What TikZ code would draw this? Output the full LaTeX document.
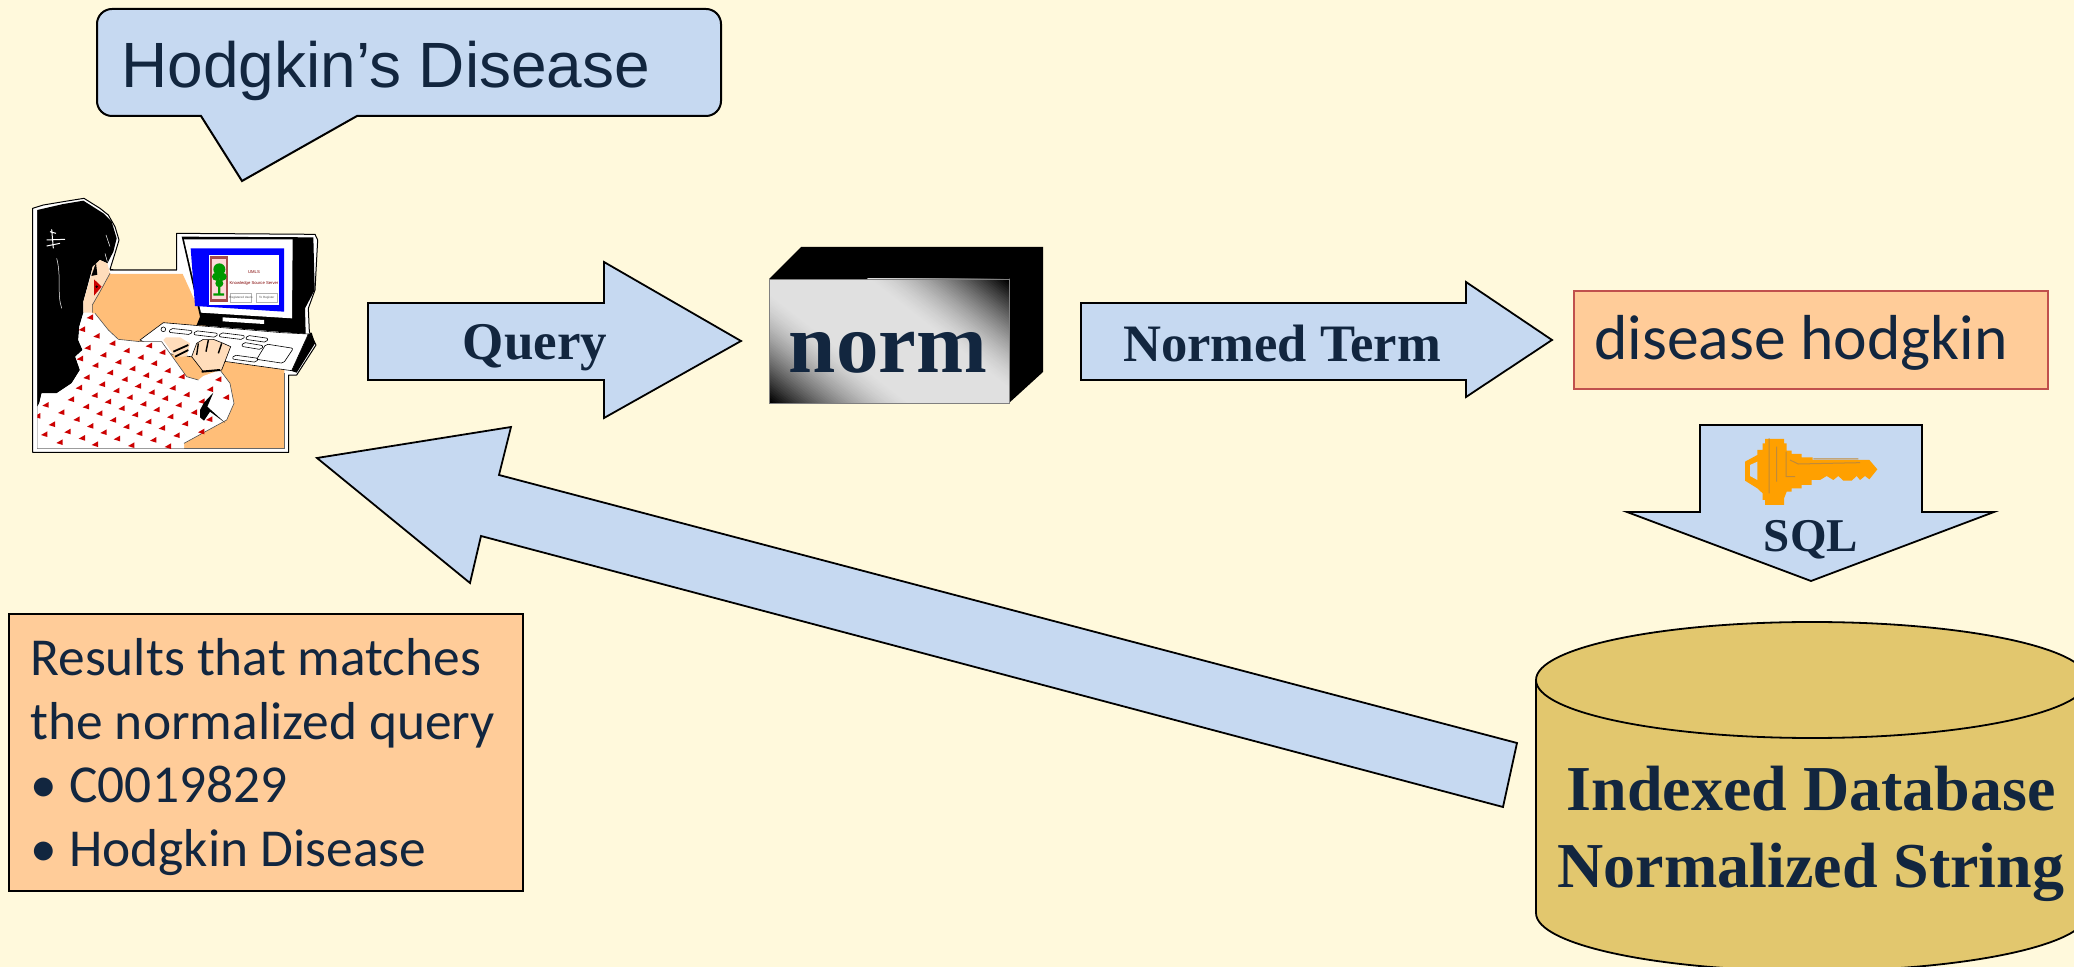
\documentclass[tikz,border=0pt]{standalone}
\usepackage{fontspec}
\setmainfont{Liberation Serif}
\newfontfamily\arialf{Liberation Sans}
\newfontfamily\calib{Carlito}
\usetikzlibrary{calc}
\definecolor{bgc}{HTML}{FFF9DC}
\definecolor{arrowc}{HTML}{C6D9F1}
\definecolor{inkc}{HTML}{12263F}
\definecolor{peachc}{HTML}{FFCC99}
\definecolor{deskc}{HTML}{FFBE78}
\definecolor{skinc}{HTML}{FFDDBB}
\definecolor{dbc}{HTML}{E2C76E}
\definecolor{keyc}{HTML}{FFA000}
\definecolor{keydk}{HTML}{C08A3A}
\definecolor{redbox}{HTML}{C0504D}
\tikzset{
  x=0.5pt,y=-0.5pt,
  blockarrow/.style={draw=black,line width=0.9pt,fill=arrowc,line join=miter},
  boldlabel/.style={font=\bfseries,text=inkc,inner sep=0pt},
  bodyline/.style={anchor=base west,inner sep=0pt,text=inkc,font=\calib\fontsize{26.7}{30}\selectfont},
  pic3/.style={shift={(0,180)},x=0.16667pt,y=-0.16667pt},
  key3/.style={shift={(1600,410)},x=0.16667pt,y=-0.16667pt},
  redtri/.style={fill=red!80!black,draw=none},
}
\begin{document}
\begin{tikzpicture}
\useasboundingbox (0,0) rectangle (2074,967);
\fill[bgc] (0,0) rectangle (2074,967);

% speech callout
\draw[draw=black,line width=1pt,fill=arrowc,line join=miter]
  (112,9) -- (706,9) arc[start angle=-90,end angle=0,radius=15] -- (721,101) arc[start angle=0,end angle=90,radius=15]
  -- (357,116) -- (242,181) -- (201,116) -- (112,116) arc[start angle=90,end angle=180,radius=15]
  -- (97,24) arc[start angle=180,end angle=270,radius=15] -- cycle;
\node[anchor=base west,inner sep=0pt,text=inkc,font=\arialf\fontsize{32}{36}\selectfont] (callout) at (121,88) {Hodgkin’s Disease};

% person at computer
\begin{scope}[pic3]
  \draw[fill=white,draw=black,line width=0.5pt,line join=round]
    (98,85) -- (130,75) -- (190,65) -- (252,55) -- (300,85) -- (325,105) -- (345,140) -- (357,180) -- (345,220) -- (330,268) -- (345,270) -- (530,270) -- (530,160) -- (945,163) -- (953,180) -- (945,330) -- (925,385) -- (928,455) -- (948,495) -- (890,585) -- (866,585) -- (866,817) -- (98,817) -- cycle;
  % desk
  \fill[deskc] (330,282) -- (548,282) -- (620,440) -- (853,500) -- (853,805) -- (500,805) -- (277,400) -- (270,380) -- cycle;
  \draw[black!60,line width=0.5pt] (330,272) -- (530,272) (853,580) -- (853,805) -- (112,805) -- (112,90);
  % hair
  \fill[black] (112,90) -- (190,72) -- (250,62) -- (310,100) -- (335,125) -- (350,175) -- (340,215) -- (322,250) -- (300,240) -- (278,260) -- (250,365) -- (250,398) -- (238,440) -- (235,480) -- (248,510) -- (226,530) -- (240,570) -- (215,610) -- (170,640) -- (125,640) -- (118,670) -- (112,680) -- cycle;
  \draw[white,line width=0.5pt] (155,148) -- (160,205) (140,180) -- (195,178) (140,198) -- (180,190) (150,155) -- (168,160);
  \draw[white,line width=0.25pt] (170,235) .. controls (185,290) and (170,340) .. (185,385);
  \draw[white,line width=0.25pt] (318,165) -- (330,200) (315,220) -- (322,245);
  % face
  \fill[skinc] (322,250) -- (330,280) -- (300,335) -- (277,375) -- (277,398) -- (250,398) -- (250,365) -- (272,290) -- (278,260) -- (300,240) -- cycle;
  \fill[black] (288,248) -- (274,288) -- (292,284) -- cycle;
  \fill[red!80!black] (282,298) -- (305,320) -- (282,347) -- cycle;
  \fill[black] (290,320) circle[radius=4];
  \draw[black!70,line width=0.3pt] (330,280) -- (300,335) -- (277,375) -- (277,398);
  % monitor
  \fill[black] (545,170) -- (940,172) -- (944,330) -- (915,385) -- (917,462) -- (590,435) -- (600,410) -- cycle;
  \fill[white] (552,178) -- (878,178) -- (876,415) -- (603,398) -- cycle;
  \fill[blue] (572,205) -- (852,205) -- (852,395) -- (585,378) -- cycle;
  \fill[white] (628,225) rectangle (836,375);
  \fill[red!50!black!70] (630,228) rectangle (685,367);
  \fill[white!85!red] (637,238) rectangle (678,358);
  \fill[green!60!black] (658,268) circle[x radius=18,y radius=18] (648,290) circle[radius=12] (668,290) circle[radius=12] (658,310) circle[radius=12];
  \fill[green!60!black] (654,310) rectangle (661,340) (640,340) rectangle (672,347);
  \node[font=\arialf\fontsize{2.1}{5.6}\selectfont,text=red!50!black,align=center,inner sep=0pt] (umls) at (762,295) {UMLS\\Knowledge Source Server};
  \draw[gray!60,line width=0.2pt] (692,340) rectangle (755,367) (768,340) rectangle (833,367);
  \node[font=\arialf\fontsize{1.5}{2}\selectfont,text=black!70,inner sep=0pt] (btna) at (723,353) {Registered Users};
  \node[font=\arialf\fontsize{1.5}{2}\selectfont,text=black!70,inner sep=0pt] (btnb) at (800,353) {To Register};
  \fill[white] (668,412) -- (792,420) -- (792,432) -- (668,424) -- cycle;
  % keyboard
  \fill[black] (925,462) -- (935,458) -- (945,490) -- (890,578) -- (872,572) -- cycle;
  \fill[white,draw=black,line width=0.3pt] (420,480) -- (490,428) -- (845,458) -- (925,462) -- (875,572) -- (500,520) -- cycle;
  \foreach \ka/\kb/\kc/\kd in {512/445/578/452, 586/452/654/460, 662/458/735/467, 742/466/805/475, 730/487/790/497, 702/525/775/535}
    {\draw[black,line width=0.3pt,rounded corners=1pt,fill=white] (\ka,\kb) -- (\kc,\kd) -- (\kc-6,\kd+12) -- (\ka-6,\kb+12) -- cycle;}
  \draw[black,line width=0.3pt,rounded corners=1pt] (798,492) -- (880,505) -- (850,550) -- (770,538) -- cycle;
  \draw[black,line width=0.3pt] (490,448) circle[radius=7];
  % hand under the cuff
  \fill[skinc] (490,480) -- (498,472) -- (540,472) -- (570,490) -- (560,530) -- (525,530) -- cycle;
  \draw[black,line width=0.9pt] (520,515) -- (565,495) (525,530) -- (565,510);
  % blouse
  \fill[white] (250,400) -- (285,400) -- (325,450) -- (355,478) -- (420,485) -- (485,485) -- (560,590) -- (595,600) -- (610,588) -- (660,570) -- (690,610) -- (702,670) -- (680,720) -- (552,790) -- (552,805) -- (112,805) -- (112,680) -- (118,670) -- (125,640) -- (170,640) -- (215,610) -- (240,570) -- (226,530) -- (248,510) -- (235,480) -- (238,440) -- cycle;
  \draw[black!70,line width=0.3pt] (285,400) -- (325,450) -- (355,478) -- (420,485) -- (485,485) -- (560,590) -- (595,600) (660,570) -- (690,610) -- (702,670) -- (680,720) -- (552,790);
  \begin{scope}
    \clip (112,380) rectangle (853,805);
    \foreach \px/\py in {270/412,246/448,290/468,337/490,380/512,422/532,462/550,503/572,545/590,
      263/503,310/525,355/546,397/566,438/586,478/604,518/624,560/644,605/664,
      240/536,286/556,330/578,374/598,414/618,455/637,495/655,536/675,582/697,628/718,
      260/592,306/613,349/632,389/652,430/672,470/689,511/710,555/731,604/755,
      237/623,284/646,324/665,365/685,405/704,445/725,486/744,530/766,
      213/658,258/680,298/700,339/720,379/740,418/760,460/780,504/799,
      137/675,184/697,230/718,271/738,311/757,351/776,394/796,
      112/708,156/733,203/755,246/774,285/793,133/763,179/787,
      655/598,630/628,678/652,447/497,487/517}
      {\fill[redtri] (\px+9,\py-9) -- (\px+9,\py+8) -- (\px-10,\py+2) -- cycle;}
  \end{scope}
  \fill[black] (600,690) -- (612,668) -- (640,638) -- (622,680) -- (675,728) -- (630,695) -- (612,722) -- (600,712) -- cycle;
  % right hand
  \fill[skinc,draw=black,line width=0.3pt] (575,530) -- (590,490) -- (610,478) -- (640,478) -- (670,490) -- (692,500) -- (665,570) -- (610,575) -- cycle;
  \draw[black,line width=0.7pt] (595,490) -- (590,525) (625,480) -- (618,515) (665,490) -- (655,520);
  \draw[black,line width=1pt] (605,575) -- (660,570);
\end{scope}

% query arrow
\draw[blockarrow] (368,303) -- (604,303) -- (604,262) -- (741,341) -- (604,418) -- (604,380) -- (368,380) -- cycle;
\node[boldlabel,font=\bfseries\fontsize{26.5}{30}\selectfont] (query) at (535,348) {Query};

% norm box
\fill[black] (769,279) -- (801,247) -- (1043,247) -- (1043,372) -- (1009,403) -- (1009,279) -- cycle;
\begin{scope}
  \clip (769,279) rectangle (1009,403);
  \fill[black!12] (769,279) rectangle (1009,403);
  % bands across the front, dark toward the top right and the bottom left corners
  \foreach \d in {36,38,...,124}{
    \pgfmathsetmacro{\val}{min(100,12+88*((\d-34)/86)^1.5)}
    \fill[black!\val] (889+400*.788-\d*.616,341+400*.616+\d*.788) -- (889-400*.788-\d*.616,341-400*.616+\d*.788) -- (889-400*.788-170*.616,341-400*.616+170*.788) -- (889+400*.788-170*.616,341+400*.616+170*.788) -- cycle;
    \fill[black!\val] (889+400*.788+\d*.616,341+400*.616-\d*.788) -- (889-400*.788+\d*.616,341-400*.616-\d*.788) -- (889-400*.788+170*.616,341-400*.616-170*.788) -- (889+400*.788+170*.616,341+400*.616-170*.788) -- cycle;
  }
\end{scope}
\draw[black!50,line width=0.3pt] (769,279) rectangle (1009,403);
\node[boldlabel,anchor=base,font=\bfseries\fontsize{42.5}{46}\selectfont] (norm) at (888,373) {norm};

% normed term arrow
\draw[blockarrow] (1081,303) -- (1466,303) -- (1466,282) -- (1552,340) -- (1466,397) -- (1466,380) -- (1081,380) -- cycle;
\node[boldlabel,font=\bfseries\fontsize{26.3}{30}\selectfont] (normed) at (1282,344) {Normed Term};

% disease hodgkin
\node[draw=redbox,line width=0.9pt,fill=peachc,minimum width=237pt,minimum height=49pt,inner sep=0pt] (dh) at (1811,340) {};
\node[anchor=base,inner sep=0pt,text=inkc,font=\calib\fontsize{31.8}{34}\selectfont] (dhtext) at (1801,360) {disease hodgkin};

% SQL arrow
\draw[blockarrow] (1700,425) -- (1922,425) -- (1922,512) -- (1994,512) -- (1811,581) -- (1627,512) -- (1700,512) -- cycle;
\begin{scope}[key3]
  \fill[keyc] (435,155) -- (472,135) -- (472,120) -- (488,120) -- (488,100) -- (495,100) -- (495,87) -- (552,87) -- (552,100) -- (560,100) -- (560,122) -- (575,122) -- (575,132) -- (605,132) -- (605,142) -- (638,142) -- (638,150) -- (808,150) -- (832,178) -- (808,208) -- (795,198) -- (780,210) -- (770,198) -- (755,212) -- (730,212) -- (715,198) -- (700,210) -- (680,198) -- (660,210) -- (635,210) -- (635,225) -- (605,225) -- (605,235) -- (575,235) -- (575,245) -- (560,245) -- (552,265) -- (552,285) -- (495,285) -- (495,270) -- (488,270) -- (488,250) -- (472,235) -- (435,212) -- cycle;
  \fill[arrowc] (450,165) -- (472,155) -- (472,210) -- (450,198) -- cycle;
  \draw[keydk,line width=0.5pt] (507,85) -- (507,250) (530,110) -- (530,215) (558,125) -- (558,200) -- (585,200) (570,150) -- (595,162) -- (780,158) (640,147) -- (775,147);
\end{scope}
\node[boldlabel,font=\bfseries\fontsize{23.5}{27}\selectfont] (sql) at (1811,540) {SQL};

% database
\draw[draw=black,line width=0.9pt,fill=dbc] (1536,680) -- (1536,913) arc[start angle=180,end angle=0,x radius=276,y radius=58] -- (2088,680) -- cycle;
\draw[draw=black,line width=0.9pt,fill=dbc] (1812,680) circle[x radius=276,y radius=58];
\node[boldlabel,anchor=base,font=\bfseries\fontsize{32}{36}\selectfont] (dba) at (1811,811) {Indexed Database};
\node[boldlabel,anchor=base,font=\bfseries\fontsize{32}{36}\selectfont] (dbb) at (1811,888) {Normalized String};

% return arrow
\draw[blockarrow] (1517,743) -- (1503,807) -- (481,536) -- (470,583) -- (317,458) -- (511,427) -- (499,475) -- cycle;

% results box
\node[draw=black,line width=0.9pt,fill=peachc,minimum width=257pt,minimum height=138.5pt,inner sep=0pt] (results) at (266,752.5) {};
\node[bodyline] (r1) at (30,676) {Results that matches};
\node[bodyline] (r2) at (30,740) {the normalized query};
\node[bodyline] (r3b) at (30,803) {•};
\node[bodyline] (r3) at (69,803) {C0019829};
\node[bodyline] (r4b) at (30,867) {•};
\node[bodyline] (r4) at (69,867) {Hodgkin Disease};
\end{tikzpicture}
\end{document}
